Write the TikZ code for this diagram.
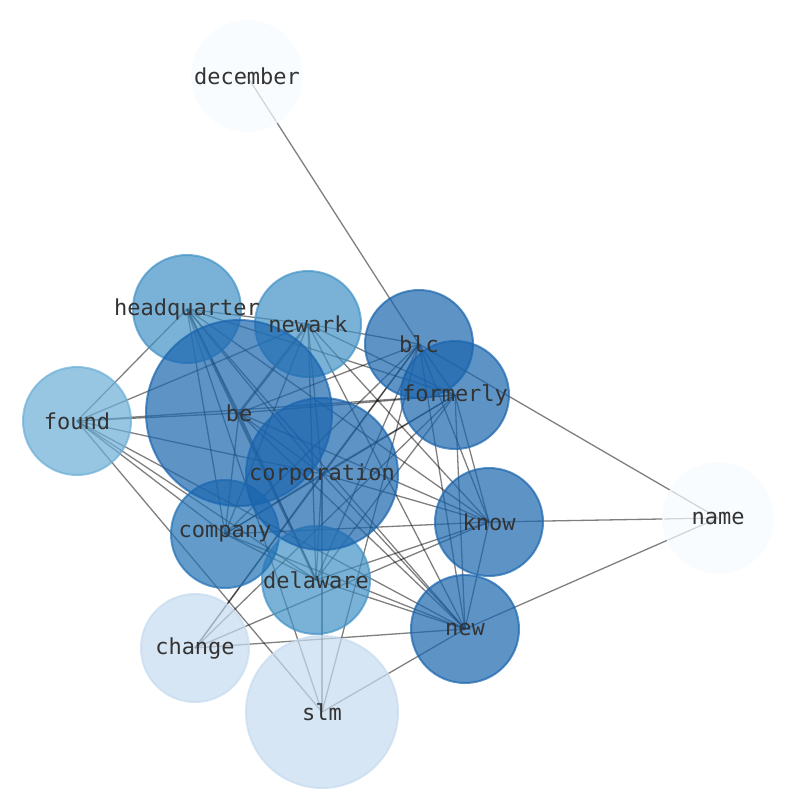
\documentclass[tikz,border=0pt]{standalone}
\usepackage{fontspec}
\newfontfamily\wordfont{DejaVu Sans Mono}
\usetikzlibrary{backgrounds}

\definecolor{bluesA}{HTML}{F7FBFF}
\definecolor{bluesB}{HTML}{C6DBEF}
\definecolor{bluesC}{HTML}{6BAED6}
\definecolor{bluesD}{HTML}{4292C6}
\definecolor{bluesE}{HTML}{2171B5}
\definecolor{bluesF}{HTML}{1A65AE}

\begin{document}
\begin{tikzpicture}[x=1pt,y=-1pt,
  word/.style={circle, inner sep=0pt, line width=2pt, fill opacity=.7, draw opacity=.7},
  wordtext/.style={font=\wordfont\fontsize{22}{26}\selectfont, text=black!80},
  link/.style={draw=black, draw opacity=.5, line width=1.3pt},
  heavylink/.style={link, line width=2.6pt}]

 \useasboundingbox (0,0) rectangle (794,790);

 \foreach \w/\x/\y/\d/\c in {december/247/76/110/bluesA, name/718/518/110/bluesA,
   change/195/648/108/bluesB, slm/322/712/152/bluesB, found/77/421/108/bluesC,
   headquarter/187/309/108/bluesD, newark/308/324/106/bluesD, delaware/316/580/108/bluesD,
   company/225/534/108/bluesE, be/239/413/186/bluesF, corporation/322/474/152/bluesF,
   blc/419/344/108/bluesF, formerly/455/395/108/bluesF, know/489/522/108/bluesF,
   new/465/629/108/bluesF}
   \node[word, minimum size=\d, fill=\c, draw=\c] (\w) at (\x,\y) {};

 \begin{pgfonlayer}{background}
   \foreach \a/\b in {december/blc, name/blc, name/know, name/new,
     found/headquarter, found/be, found/newark, found/formerly, found/corporation,
     found/company, found/delaware, found/new, found/slm,
     headquarter/newark, headquarter/be, headquarter/formerly, headquarter/company,
     headquarter/corporation, headquarter/know, headquarter/new, headquarter/slm,
     newark/blc, newark/formerly, newark/corporation, newark/company, newark/delaware,
     newark/know, newark/new,
     be/blc, be/formerly, be/corporation, be/company, be/know, be/new, be/delaware,
     blc/formerly, blc/corporation, blc/company, blc/know, blc/new, blc/change,
     blc/slm, blc/delaware,
     formerly/corporation, formerly/know, formerly/new, formerly/company,
     formerly/delaware, formerly/change,
     corporation/company, corporation/know, corporation/new, corporation/delaware,
     corporation/change, corporation/slm,
     company/know, company/delaware, company/new,
     delaware/know, delaware/new, know/new, know/change, new/change, new/slm}
     \draw[link] (\a.center) -- (\b.center);
   \draw[heavylink] (be.center) -- (newark.center);
   \draw[heavylink] (headquarter.center) -- (delaware.center);
 \end{pgfonlayer}

 \foreach \w in {december, name, change, slm, found, headquarter, newark, delaware,
   company, be, corporation, blc, formerly, know, new}
   \node[wordtext] at (\w) {\w};
\end{tikzpicture}
\end{document}
